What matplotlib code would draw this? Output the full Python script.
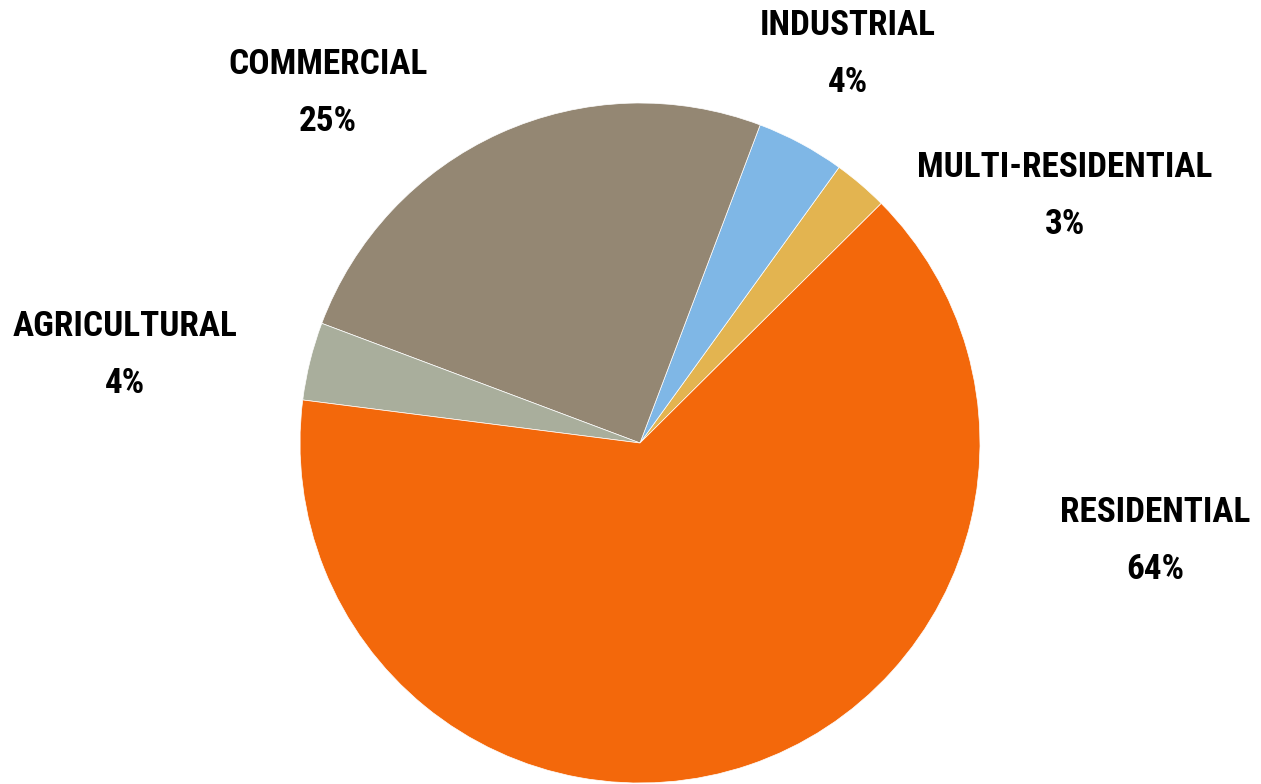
import matplotlib
matplotlib.use("Agg")
import matplotlib.pyplot as plt
from matplotlib import font_manager

# Share of connections by customer class
categories = ["MULTI-RESIDENTIAL", "INDUSTRIAL", "COMMERCIAL", "AGRICULTURAL", "RESIDENTIAL"]
shares = [2.6, 4.2, 25.0, 3.7, 64.4]
colors = ["#E3B450", "#7FB7E6", "#948773", "#A9AE9C", "#F3680B"]

# label anchor points (centre of each two-line label), in pie-radius units
label_pos = {
    "MULTI-RESIDENTIAL": (1.250, 0.726),
    "INDUSTRIAL": (0.612, 1.144),
    "COMMERCIAL": (-0.918, 1.029),
    "AGRICULTURAL": (-1.515, 0.259),
    "RESIDENTIAL": (1.515, -0.288),
}

# prefer a narrow/condensed face for the labels
installed = {f.name for f in font_manager.fontManager.ttflist}
candidates = ["Liberation Sans Narrow", "DejaVu Serif Condensed", "DejaVu Sans Condensed",
              "Roboto Condensed", "Open Sans Condensed", "Liberation Serif"]
label_family = next((c for c in candidates if c in installed), "DejaVu Serif")

W, H, DPI = 1261, 784, 100
fig = plt.figure(figsize=(W / DPI, H / DPI), dpi=DPI)
ax = fig.add_axes([0, 0, 1, 1])

wedges, _ = ax.pie(
    shares,
    colors=colors,
    startangle=44.8,
    counterclock=True,
    radius=1.0,
    center=(0, 0),
    wedgeprops=dict(edgecolor="white", linewidth=0.5),
)

scale = 340.0
cx, cy = 640.0, 443.0
ax.set_xlim(-cx / scale, (W - cx) / scale)
ax.set_ylim((cy - H) / scale, cy / scale)
ax.set_aspect("equal")
ax.axis("off")

# size the labels so the longest name spans about 296 px
renderer = fig.canvas.get_renderer()
probe = fig.text(0, 0, "MULTI-RESIDENTIAL", family=label_family, weight="bold", size=20)
probe_w = probe.get_window_extent(renderer).width
probe.remove()
label_size = min(34.0, 20 * 296.0 / probe_w)

# name and percentage sit about 57 px apart
half_gap = 28.5 / scale

total = sum(shares)
style = dict(ha="center", va="center", color="black", family=label_family,
             weight="bold", size=label_size)
for name, val in zip(categories, shares):
    x, y = label_pos[name]
    ax.text(x, y + half_gap, name, **style)
    ax.text(x, y - half_gap, f"{val / total * 100:.0f}%", **style)

fig.savefig("out.png", dpi=DPI, facecolor="white")
